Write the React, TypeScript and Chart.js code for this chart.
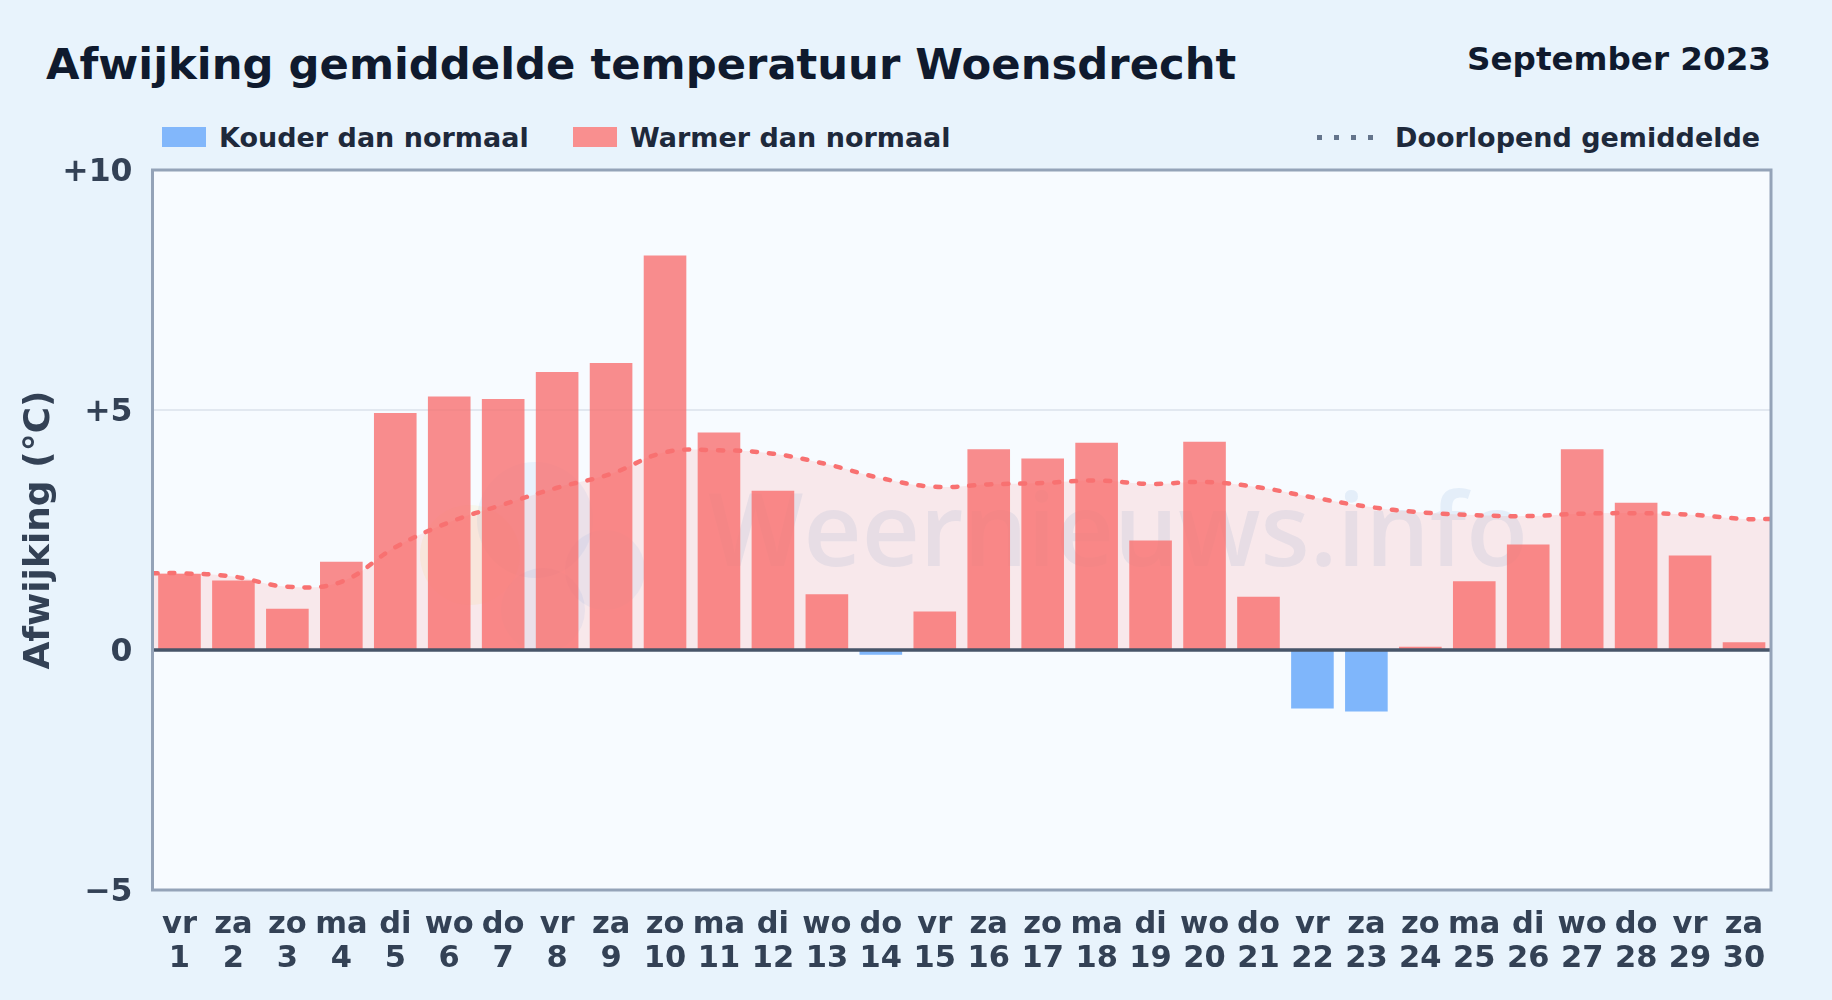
import React, { useEffect, useRef } from "react";
import { Chart, registerables } from "chart.js";

Chart.register(...registerables);

const FONT = "'DejaVu Sans', sans-serif";
const TITLE = "Afwijking gemiddelde temperatuur Woensdrecht";
const PERIOD = "September 2023";
const LEGEND_COLD = "Kouder dan normaal";
const LEGEND_WARM = "Warmer dan normaal";
const LEGEND_AVG = "Doorlopend gemiddelde";
const Y_TITLE = "Afwijking (°C)";
const WATERMARK = "Weernieuws.info";

const weekdays = ["vr","za","zo","ma","di","wo","do","vr","za","zo","ma","di","wo","do","vr","za","zo","ma","di","wo","do","vr","za","zo","ma","di","wo","do","vr","za"];
const days = ["1","2","3","4","5","6","7","8","9","10","11","12","13","14","15","16","17","18","19","20","21","22","23","24","25","26","27","28","29","30"];
const deviation = [1.59,1.45,0.86,1.84,4.94,5.28,5.23,5.79,5.98,8.22,4.53,3.32,1.16,-0.1,0.8,4.18,3.99,4.32,2.28,4.34,1.11,-1.22,-1.28,0.07,1.43,2.2,4.18,3.07,1.97,0.16];
const runningAverage = [1.6,1.53,1.32,1.42,2.14,2.66,3.03,3.38,3.67,4.12,4.16,4.09,3.87,3.58,3.4,3.45,3.48,3.53,3.46,3.5,3.39,3.18,2.99,2.87,2.81,2.79,2.84,2.85,2.82,2.73];
const yTicks: Record<string, string> = { "10": "+10", "5": "+5", "0": "0", "-5": "−5" };

const COLD = "rgba(96,165,250,0.8)";
const WARM = "rgba(248,113,113,0.8)";

const plotDecor = {
  id: "plotDecor",
  beforeDraw(chart: any) {
    const { ctx, chartArea: a, scales } = chart;
    ctx.save();
    ctx.fillStyle = "#f7fbff";
    ctx.fillRect(a.left, a.top, a.width, a.height);
    ctx.restore();
    // nudge the y tick labels down onto their grid lines
    const s = scales.y;
    s._labelItems = s._computeLabelItems(a).map((it: any) => ({
      ...it,
      options: { ...it.options, translation: [it.options.translation[0], it.options.translation[1] + 2.5] },
    }));
  },
  beforeDatasetsDraw(chart: any) {
    const { ctx } = chart;
    ctx.save();
    ctx.fillStyle = "rgba(40,110,190,0.085)";
    ctx.font = "600 101px 'Open Sans', sans-serif";
    ctx.textBaseline = "alphabetic";
    ctx.textAlign = "left";
    ctx.fillText(WATERMARK, 708, 566);
    // faint logo behind the bars
    ctx.fillStyle = "rgba(40,130,220,0.07)";
    ctx.beginPath(); ctx.arc(543, 610, 42, 0, Math.PI * 2); ctx.fill();
    ctx.beginPath(); ctx.arc(605, 570, 40, 0, Math.PI * 2); ctx.fill();
    ctx.beginPath(); ctx.arc(535, 520, 58, 0, Math.PI * 2); ctx.fill();
    ctx.fillStyle = "rgba(250,220,110,0.12)";
    ctx.beginPath(); ctx.arc(470, 555, 50, 0, Math.PI * 2); ctx.fill();
    ctx.restore();
  },
  afterDatasetsDraw(chart: any) {
    const { ctx, chartArea: a, scales } = chart;
    const y0 = scales.y.getPixelForValue(0);
    ctx.save();
    ctx.strokeStyle = "#475569";
    ctx.lineWidth = 3.5;
    ctx.beginPath(); ctx.moveTo(a.left, y0); ctx.lineTo(a.right, y0); ctx.stroke();
    ctx.strokeStyle = "#94a3b8";
    ctx.lineWidth = 3;
    ctx.strokeRect(a.left, a.top, a.width, a.height);
    ctx.restore();
  },
};

export default function App() {
  const ref = useRef<HTMLCanvasElement>(null);
  useEffect(() => {
    const linePoints = [
      { x: 0.5, y: runningAverage[0] },
      ...runningAverage.map((y, i) => ({ x: i + 1, y })),
      { x: 30.5, y: runningAverage[29] },
    ];
    const chart = new Chart(ref.current!, {
      type: "bar",
      plugins: [plotDecor],
      data: {
        labels: weekdays.map((w, i) => [w, days[i]]),
        datasets: [
          {
            type: "line",
            label: LEGEND_AVG,
            data: linePoints,
            xAxisID: "xLine",
            yAxisID: "y",
            order: 0,
            borderColor: "#f87171",
            borderWidth: 4.5,
            borderDash: [5, 12],
            borderCapStyle: "round",
            backgroundColor: "rgba(255,110,100,0.13)",
            fill: "origin",
            tension: 0.4,
            pointRadius: 0,
          },
          {
            type: "bar",
            label: "Afwijking",
            data: deviation,
            xAxisID: "x",
            yAxisID: "y",
            order: 1,
            backgroundColor: deviation.map((v) => (v < 0 ? COLD : WARM)),
            grouped: false,
            categoryPercentage: 1,
            barPercentage: 0.79,
          },
        ],
      } as any,
      options: {
        animation: false,
        responsive: false,
        devicePixelRatio: 1,
        layout: { padding: { top: 170, right: 61, left: 0, bottom: 0 } },
        plugins: { legend: { display: false }, title: { display: false }, tooltip: { enabled: false } },
        scales: {
          x: {
            type: "category",
            offset: true,
            grid: { display: false },
            border: { display: false },
            afterFit: (s: any) => { s.height = 110; },
            ticks: {
              autoSkip: false,
              maxRotation: 0,
              minRotation: 0,
              padding: 10,
              color: "#334155",
              font: { family: FONT, weight: "bold", size: 30.5, lineHeight: 1.11 },
            },
          },
          xLine: { type: "linear", display: false, offset: false, min: 0.5, max: 30.5, grid: { offset: false } },
          y: {
            min: -5,
            max: 10,
            afterFit: (s: any) => { s.width = 152.5; },
            border: { display: false },
            grid: {
              drawTicks: false,
              lineWidth: 2,
              color: (c: any) => (c.tick.value === 5 ? "#e2e8f0" : "transparent"),
            },
            title: {
              display: true,
              text: Y_TITLE,
              color: "#334155",
              font: { family: FONT, weight: "bold", size: 36 },
              padding: { top: 18, bottom: 0 },
            },
            ticks: {
              stepSize: 5,
              padding: 20,
              color: "#334155",
              font: { family: FONT, weight: "bold", size: 31.5 },
              callback: (v: any) => yTicks[String(v)] ?? "",
            },
          },
        },
      } as any,
    });
    return () => chart.destroy();
  }, []);

  const text = (s: string, style: React.CSSProperties) => (
    <div style={{ position: "absolute", whiteSpace: "nowrap", fontFamily: FONT, fontWeight: 700, lineHeight: 1, ...style }}>{s}</div>
  );
  const swatch = (left: number, color: string) => (
    <div style={{ position: "absolute", left, top: 127, width: 43.5, height: 19.5, background: color }} />
  );

  return (
    <div style={{ position: "fixed", left: 0, top: 0, width: 1832, height: 1000, overflow: "hidden", background: "#e8f3fc" }}>
      {text(TITLE, { left: 46, top: 43, fontSize: 43.3, color: "#0f1a2e" })}
      {text(PERIOD, { right: 61, top: 43, fontSize: 32.6, color: "#0f1a2e" })}
      {swatch(162, "#82b7fb")}
      {text(LEGEND_COLD, { left: 219, top: 124, fontSize: 27, color: "#1e293b" })}
      {swatch(573, "#f98f8f")}
      {text(LEGEND_WARM, { left: 630, top: 124, fontSize: 27, color: "#1e293b" })}
      <div style={{ position: "absolute", left: 1317, top: 135, width: 58, height: 5, background: "repeating-linear-gradient(90deg,#64748b 0 5px,transparent 5px 17px)" }} />
      {text(LEGEND_AVG, { left: 1395, top: 124, fontSize: 27, color: "#1e293b" })}
      <canvas ref={ref} width={1832} height={1000} style={{ position: "absolute", left: 0, top: 0, width: 1832, height: 1000 }} />
    </div>
  );
}
